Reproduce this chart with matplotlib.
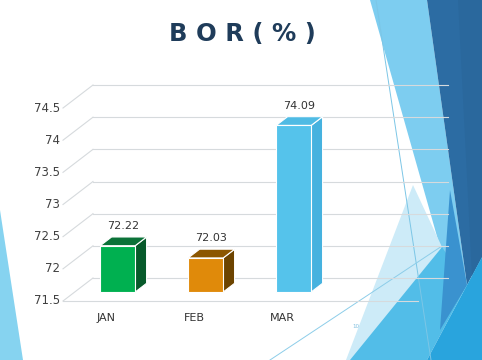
import matplotlib
matplotlib.use("Agg")
import matplotlib.pyplot as plt
from matplotlib.patches import Polygon

# ---- data ----
categories = ["JAN", "FEB", "MAR"]
values = [72.22, 72.03, 74.09]
value_labels = ["72.22", "72.03", "74.09"]
y_ticks = [71.5, 72.0, 72.5, 73.0, 73.5, 74.0, 74.5]
y_tick_labels = ["71.5", "72", "72.5", "73", "73.5", "74", "74.5"]
title = "B O R ( % )"

front_colors = ["#00b050", "#e08a0a", "#55c3eb"]
top_colors = ["#0b7238", "#8c5600", "#4fbbe4"]
side_colors = ["#075a2b", "#6d4400", "#46b2df"]

W, H = 482, 360
fig = plt.figure(figsize=(W / 100, H / 100), dpi=100)
fig.patch.set_facecolor("white")

# ---- background decoration (slide theme), pixel coordinates ----
bg = fig.add_axes([0, 0, 1, 1])
bg.set_xlim(0, W)
bg.set_ylim(H, 0)
bg.axis("off")
deco = [
    ([(0, 210), (0, 360), (23, 360)], "#86d3f0"),
    ([(370, 0), (427, 0), (467, 285), (440, 247)], "#7dcdf0"),
    ([(413, 185), (442, 247), (352, 360), (346, 360)], "#cdebf8"),
    ([(427, 0), (482, 0), (482, 257), (467, 285)], "#2c6ca3"),
    ([(458, 0), (482, 0), (482, 257), (472, 276)], "#2a689d"),
    ([(350, 360), (442, 247), (467, 285), (427, 360)], "#52bde8"),
    ([(450, 190), (467, 285), (440, 330)], "#3a92cf"),
    ([(427, 360), (467, 285), (482, 257), (482, 360)], "#29a4dd"),
]
for pts, col in deco:
    bg.add_patch(Polygon(pts, closed=True, facecolor=col, edgecolor="none"))
bg.plot([376, 431], [0, 360], color="#7cc6e6", lw=0.7)
bg.plot([270, 442], [360, 246], color="#8ccde9", lw=0.7)
bg.text(356, 327, "10", fontsize=4, color="#7fbfdf", ha="center", va="center")

# ---- chart axes: front plane in data units ----
ax = fig.add_axes([0, 0, 1, 1])
ax.patch.set_alpha(0)
px_per_cat = 88.0
x0_px = 106.0
px_per_val = 64.33
base_val = 71.5
base_px = 301.0
ax.set_xlim(-x0_px / px_per_cat, (W - x0_px) / px_per_cat)
ax.set_ylim(base_val - (H - base_px) / px_per_val, base_val + base_px / px_per_val)
ax.axis("off")

Dx = 30 / px_per_cat       # full depth offset in category units
Dy = 23 / px_per_val       # full depth offset in value units
xL = (63 - x0_px) / px_per_cat
xR = (418 - x0_px) / px_per_cat
gcol = "#d6dadd"

# walls / gridlines
for t in y_ticks:
    ax.plot([xL, xL + Dx], [t, t + Dy], color=gcol, lw=0.8, zorder=1)
    ax.plot([xL + Dx, xR + Dx], [t + Dy, t + Dy], color=gcol, lw=0.8, zorder=1)
ax.plot([xL, xR], [base_val, base_val], color=gcol, lw=0.8, zorder=1)

for t, lab in zip(y_ticks, y_tick_labels):
    ax.text(xL - 3 / px_per_cat, t, lab, ha="right", va="center",
            fontsize=8.5, color="#404040", zorder=5)

# bars
bw = 35 / px_per_cat
f0, f1 = 0.39, 0.77
ox0, oy0 = f0 * Dx, f0 * Dy
ox1, oy1 = f1 * Dx, f1 * Dy
for i, (v, fc, tc, sc, vl) in enumerate(zip(values, front_colors, top_colors,
                                               side_colors, value_labels)):
    l, r = i - bw / 2, i + bw / 2
    front = [(l + ox0, base_val + oy0), (r + ox0, base_val + oy0),
             (r + ox0, v + oy0), (l + ox0, v + oy0)]
    top = [(l + ox0, v + oy0), (r + ox0, v + oy0),
           (r + ox1, v + oy1), (l + ox1, v + oy1)]
    side = [(r + ox0, base_val + oy0), (r + ox1, base_val + oy1),
            (r + ox1, v + oy1), (r + ox0, v + oy0)]
    for pts, c in ((side, sc), (top, tc), (front, fc)):
        ax.add_patch(Polygon(pts, closed=True, facecolor=c, edgecolor="white",
                             lw=0.8, zorder=3))
    ax.text(i + (ox0 + ox1) / 2, v + oy1 + 11 / px_per_val, vl,
            ha="center", va="center", fontsize=8, color="#333333", zorder=5)
    ax.text(i, base_val - 17 / px_per_val, categories[i], ha="center",
            va="center", fontsize=8, color="#333333", zorder=5)

fig.text(242 / W, 1 - 34 / H, title, ha="center", va="center",
         fontsize=17.5, fontweight="bold", color="#1f3c5a")

fig.savefig("out.png", dpi=100, facecolor="white")
